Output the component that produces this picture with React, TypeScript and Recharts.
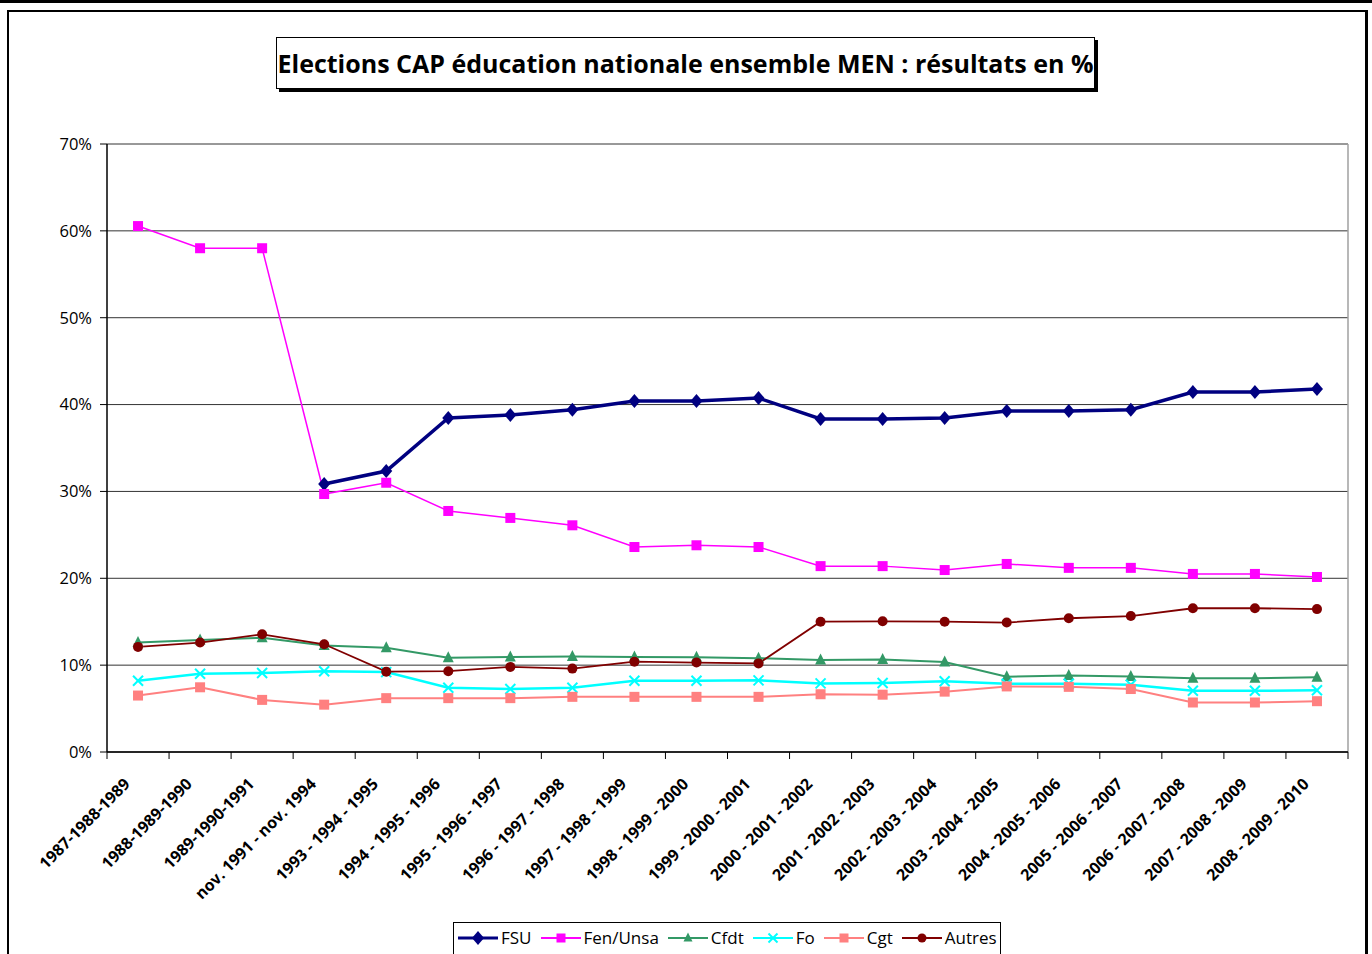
import React from 'react';
import { LineChart, Line, XAxis, YAxis, CartesianGrid } from 'recharts';

const categories = [
  '1987-1988-1989', '1988-1989-1990', '1989-1990-1991', 'nov. 1991 - nov. 1994',
  '1993 - 1994 - 1995', '1994 - 1995 - 1996', '1995 - 1996 - 1997', '1996 - 1997 - 1998',
  '1997 - 1998 - 1999', '1998 - 1999 - 2000', '1999 - 2000 - 2001', '2000 - 2001 - 2002',
  '2001 - 2002 - 2003', '2002 - 2003 - 2004', '2003 - 2004 - 2005', '2004 - 2005 - 2006',
  '2005 - 2006 - 2007', '2006 - 2007 - 2008', '2007 - 2008 - 2009', '2008 - 2009 - 2010',
];

const fsu = [null, null, null, 30.85, 32.35, 38.45, 38.8, 39.4, 40.4, 40.4, 40.75, 38.35, 38.35, 38.45, 39.25, 39.25, 39.4, 41.45, 41.45, 41.8];
const fenUnsa = [60.55, 58.0, 58.0, 29.7, 31.0, 27.75, 26.95, 26.1, 23.6, 23.8, 23.6, 21.4, 21.4, 20.95, 21.65, 21.2, 21.2, 20.5, 20.5, 20.15];
const cfdt = [12.6, 12.9, 13.15, 12.25, 12.0, 10.85, 10.95, 11.0, 10.95, 10.9, 10.8, 10.6, 10.65, 10.35, 8.67, 8.8, 8.7, 8.5, 8.5, 8.6];
const fo = [8.2, 9.0, 9.1, 9.3, 9.2, 7.4, 7.25, 7.4, 8.2, 8.2, 8.25, 7.9, 7.95, 8.15, 7.85, 7.85, 7.75, 7.05, 7.05, 7.1];
const cgt = [6.5, 7.45, 6.0, 5.45, 6.2, 6.2, 6.2, 6.35, 6.35, 6.35, 6.35, 6.65, 6.6, 6.95, 7.55, 7.5, 7.25, 5.7, 5.7, 5.85];
const autres = [12.1, 12.6, 13.55, 12.4, 9.25, 9.3, 9.8, 9.6, 10.4, 10.3, 10.2, 15.0, 15.05, 15.0, 14.9, 15.4, 15.65, 16.55, 16.55, 16.45];

const yTicks = [0, 10, 20, 30, 40, 50, 60, 70];

const data = categories.map((c, i) => ({
  cat: c,
  fsu: fsu[i],
  fen: fenUnsa[i],
  cfdt: cfdt[i],
  fo: fo[i],
  cgt: cgt[i],
  autres: autres[i],
}));

const FONT = '"Open Sans", sans-serif';

type Shape = 'diamond' | 'square' | 'triangle' | 'x' | 'circle';

const Marker = ({ cx, cy, shape, color, size }: any) => {
  if (cx == null || cy == null || isNaN(cx) || isNaN(cy)) return null;
  const s = size / 2;
  switch (shape as Shape) {
    case 'diamond':
      return <polygon points={`${cx},${cy - s - 1} ${cx + s},${cy} ${cx},${cy + s + 1} ${cx - s},${cy}`} fill={color} />;
    case 'square':
      return <rect x={cx - s} y={cy - s} width={size} height={size} fill={color} />;
    case 'triangle':
      return <polygon points={`${cx},${cy - s - 1} ${cx + s},${cy + s - 1} ${cx - s},${cy + s - 1}`} fill={color} />;
    case 'x':
      return (
        <g stroke={color} strokeWidth={2}>
          <line x1={cx - s} y1={cy - s} x2={cx + s} y2={cy + s} />
          <line x1={cx - s} y1={cy + s} x2={cx + s} y2={cy - s} />
        </g>
      );
    case 'circle':
    default:
      return <circle cx={cx} cy={cy} r={s} fill={color} />;
  }
};

const series = [
  { key: 'fsu', name: 'FSU', color: '#000080', width: 3.5, shape: 'diamond', size: 12 },
  { key: 'fen', name: 'Fen/Unsa', color: '#FF00FF', width: 1.5, shape: 'square', size: 10 },
  { key: 'cfdt', name: 'Cfdt', color: '#339966', width: 2, shape: 'triangle', size: 11 },
  { key: 'fo', name: 'Fo', color: '#00FFFF', width: 2.5, shape: 'x', size: 10 },
  { key: 'cgt', name: 'Cgt', color: '#FF8080', width: 2, shape: 'square', size: 10 },
  { key: 'autres', name: 'Autres', color: '#800000', width: 1.8, shape: 'circle', size: 10 },
];

const W = 1372;
const H = 954;
const M = { top: 144, right: 24, left: 0, bottom: 52 };
const YAXIS_W = 107;
const XAXIS_H = 150;
const PLOT_W = W - M.left - M.right - YAXIS_W;
const BAND = PLOT_W / categories.length;

const XTick = (props: any) => {
  const { x, y, payload, index } = props;
  const last = index === categories.length - 1;
  return (
    <g>
      <line x1={x - BAND / 2} x2={x - BAND / 2} y1={y} y2={y + 7} stroke="#000" strokeWidth={1} />
      {last && <line x1={x + BAND / 2} x2={x + BAND / 2} y1={y} y2={y + 7} stroke="#000" strokeWidth={1} />}
      <text
        x={0}
        y={0}
        transform={`translate(${x - 7},${y + 33}) rotate(-45)`}
        textAnchor="end"
        fontFamily={FONT}
        fontWeight={700}
        fontSize={16}
        fill="#000"
      >
        {payload.value}
      </text>
    </g>
  );
};

const LegendIcon = ({ s }: any) => (
  <svg width={40} height={16} style={{ display: 'block' }}>
    <line x1={0} y1={8} x2={40} y2={8} stroke={s.color} strokeWidth={s.key === 'fsu' ? 3 : 2} />
    <Marker cx={20} cy={8} shape={s.shape} color={s.color} size={s.key === 'fsu' ? 12 : 9} />
  </svg>
);

export default function App() {
  return (
    <div style={{ position: 'absolute', left: 0, top: 0, width: W, height: H, background: '#fff', overflow: 'hidden' }}>
      <div style={{ position: 'absolute', left: 0, top: 0, width: W, height: 3, background: '#000' }} />
      <div
        style={{
          position: 'absolute', left: 7, top: 10, width: 1361, height: 960,
          borderLeft: '2px solid #000', borderTop: '2px solid #000', borderRight: '3px solid #000', boxSizing: 'border-box',
        }}
      />
      <div
        style={{
          position: 'absolute', left: 276, top: 37, width: 819, height: 52, boxSizing: 'border-box',
          border: '1px solid #000', boxShadow: '3px 3px 0 #000', background: '#fff',
          display: 'flex', alignItems: 'center', justifyContent: 'center',
          fontFamily: FONT, fontWeight: 700, fontSize: 25, whiteSpace: 'nowrap', color: '#000',
        }}
      >
        Elections CAP éducation nationale ensemble MEN : résultats en %
      </div>
      <div style={{ position: 'absolute', left: 0, top: 0 }}>
        <LineChart width={W} height={H} data={data} margin={M}>
          <CartesianGrid vertical={false} stroke="#333" strokeWidth={1} />
          <CartesianGrid
            horizontal={false}
            stroke="#a0a0a0"
            strokeWidth={1.5}
            verticalCoordinatesGenerator={({ offset }: any) => [offset.left + offset.width]}
          />
          <XAxis
            dataKey="cat"
            height={XAXIS_H}
            interval={0}
            padding={{ left: BAND / 2, right: BAND / 2 }}
            tickLine={false}
            tickSize={0}
            tickMargin={0}
            axisLine={{ stroke: '#000', strokeWidth: 1.5 }}
            tick={<XTick />}
          />
          <YAxis
            width={YAXIS_W}
            domain={[0, 70]}
            ticks={yTicks}
            interval={0}
            tickSize={7}
            tickMargin={8}
            tickFormatter={(v: number) => `${v}%`}
            axisLine={{ stroke: '#000', strokeWidth: 1.5 }}
            tickLine={{ stroke: '#000' }}
            tick={{ fontFamily: FONT, fontSize: 16.5, fill: '#000' }}
          />
          {series.map((s) => (
            <Line
              key={s.key}
              type="linear"
              dataKey={s.key}
              name={s.name}
              stroke={s.color}
              strokeWidth={s.width}
              isAnimationActive={false}
              connectNulls={false}
              dot={(p: any) => <Marker key={`${s.key}-${p.index}`} cx={p.cx} cy={p.cy} shape={s.shape} color={s.color} size={s.size} />}
              activeDot={false}
            />
          ))}
        </LineChart>
      </div>
      <div
        style={{
          position: 'absolute', left: 453, top: 922, width: 548, height: 40, boxSizing: 'border-box',
          border: '1px solid #000', background: '#fff', display: 'flex', alignItems: 'flex-start',
          paddingLeft: 4, paddingTop: 5, fontFamily: FONT, fontSize: 17, color: '#000',
        }}
      >
        {series.map((s) => (
          <div key={s.key} style={{ display: 'flex', alignItems: 'center', marginRight: 9 }}>
            <LegendIcon s={s} />
            <span style={{ marginLeft: 3, lineHeight: '20px' }}>{s.name}</span>
          </div>
        ))}
      </div>
    </div>
  );
}
